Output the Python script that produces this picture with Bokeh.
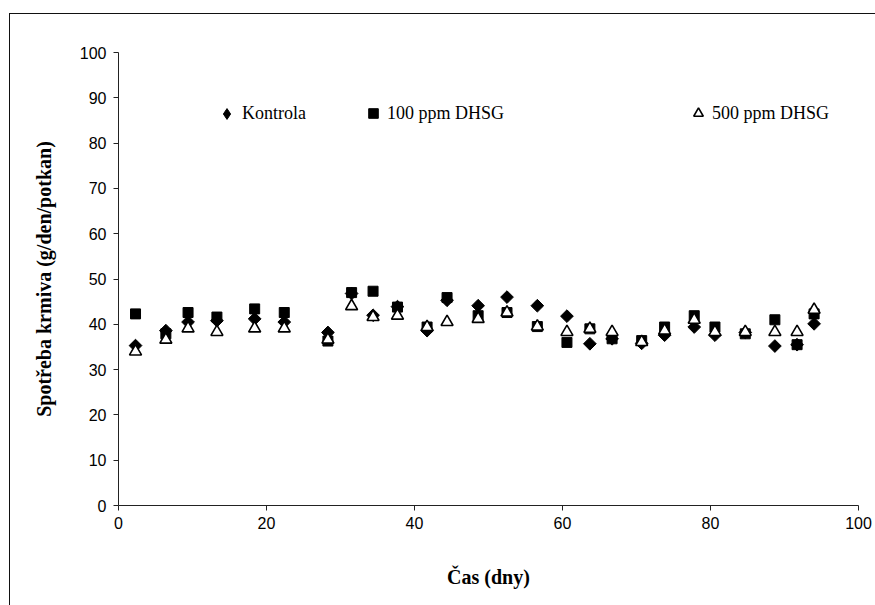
import math
from bokeh.plotting import figure
from bokeh.models import Legend, LegendItem, Range1d, FixedTicker
from bokeh.embed import file_html
from bokeh.resources import INLINE

# Data
days = [2.3, 6.4, 9.4, 13.3, 18.4, 22.4, 28.3, 31.5, 34.4, 37.7, 41.7, 44.4, 48.6,
        52.5, 56.6, 60.6, 63.7, 66.7, 70.7, 73.8, 77.8, 80.6, 84.7, 88.7, 91.7, 94.0]
kontrola = [35.3, 38.6, 40.5, 40.8, 41.2, 40.5, 38.2, 46.8, 42.0, 43.9, 38.6, 45.3, 44.1,
            46.0, 44.1, 41.8, 35.7, 36.8, 35.8, 37.6, 39.4, 37.6, 38.2, 35.2, 35.5, 40.1]
ppm100 = [42.3, 37.9, 42.6, 41.6, 43.4, 42.6, 36.3, 47.0, 47.3, 43.8, 39.4, 45.9, 41.9,
          42.6, 39.5, 36.0, 39.0, 36.8, 36.4, 39.4, 41.9, 39.4, 37.9, 41.0, 35.5, 42.3]
ppm500 = [34.0, 36.6, 39.1, 38.3, 39.1, 39.1, 36.6, 44.0, 41.6, 41.9, 39.4, 40.5, 41.2,
          42.6, 39.5, 38.3, 39.0, 38.3, 36.1, 38.6, 41.0, 38.3, 38.3, 38.3, 38.3, 43.2]
series_names = ["Kontrola", "100 ppm DHSG", "500 ppm DHSG"]
x_ticks = [0, 20, 40, 60, 80, 100]
y_ticks = [0, 10, 20, 30, 40, 50, 60, 70, 80, 90, 100]

FL, FT, FW, FH = 118, 52, 740, 453   # plot area left/top/width/height (page px)
W, H = 875, 605

p = figure(width=W, height=H, output_backend="svg", toolbar_location=None,
           x_range=Range1d(0, 100), y_range=Range1d(0, 100),
           min_border_left=FL, min_border_right=W - FL - FW,
           min_border_top=FT, min_border_bottom=H - FT - FH)
# outer chart-area frame (left and top edges only) drawn as an inset shadow
# behind a transparent border area
p.styles = {"box-shadow": "inset 9px 13px 0px 0px #ffffff, inset 10px 14px 0px 0px #111111"}
p.border_fill_color = None
p.background_fill_color = "white"
p.outline_line_color = None
p.grid.visible = False

r1 = p.scatter(days, kontrola, marker="square", angle=math.pi / 4, size=9,
               fill_color="black", line_color="black")
r2 = p.scatter(days, ppm100, marker="square", size=10,
               fill_color="black", line_color="black")
r3 = p.scatter(days, ppm500, marker="triangle", size=12, line_width=1.6,
               fill_color="white", line_color="black")
# legend-only glyph for the diamond symbol (nothing is drawn in the plot)
r1_leg = p.scatter([float("nan")], [float("nan")], marker="diamond",
                   fill_color="black", line_color="black")

for ax in (p.xaxis[0], p.yaxis[0]):
    ax.axis_line_color = "#222"
    ax.major_tick_line_color = "#222"
    ax.major_tick_in = 0
    ax.major_tick_out = 5
    ax.minor_tick_line_color = None
    ax.major_label_text_font = "Liberation Sans"
    ax.major_label_text_font_size = "16px"
    ax.major_label_text_color = "black"
    ax.axis_label_text_font = "Liberation Serif"
    ax.axis_label_text_font_style = "bold"
    ax.axis_label_text_font_size = "20px"
    ax.axis_label_text_color = "black"

p.xaxis[0].ticker = FixedTicker(ticks=x_ticks)
p.yaxis[0].ticker = FixedTicker(ticks=y_ticks)
p.xaxis[0].axis_label = "Čas (dny)"
p.yaxis[0].axis_label = "Spotřeba krmiva (g/den/potkan)"
p.xaxis[0].axis_label_standoff = 34
p.yaxis[0].axis_label_standoff = 22
p.xaxis[0].major_label_standoff = 6
p.yaxis[0].major_label_standoff = 7

leg_renderers = [r1_leg, r2, r3]
positions = [(95, 378), (243, 380), (568, 380)]
glyph_sizes = [27, 24, 24]
for name, rend, pos, gs in zip(series_names, leg_renderers, positions, glyph_sizes):
    lg = Legend(items=[LegendItem(label=name, renderers=[rend])], location=pos,
                orientation="horizontal", border_line_color=None,
                background_fill_alpha=0, padding=0, margin=0, spacing=0,
                glyph_width=gs, glyph_height=gs, label_standoff=2,
                label_text_font="Liberation Serif", label_text_font_size="18px",
                label_text_color="black")
    p.add_layout(lg, "center")

open("out.html", "w").write(file_html(p, INLINE))
